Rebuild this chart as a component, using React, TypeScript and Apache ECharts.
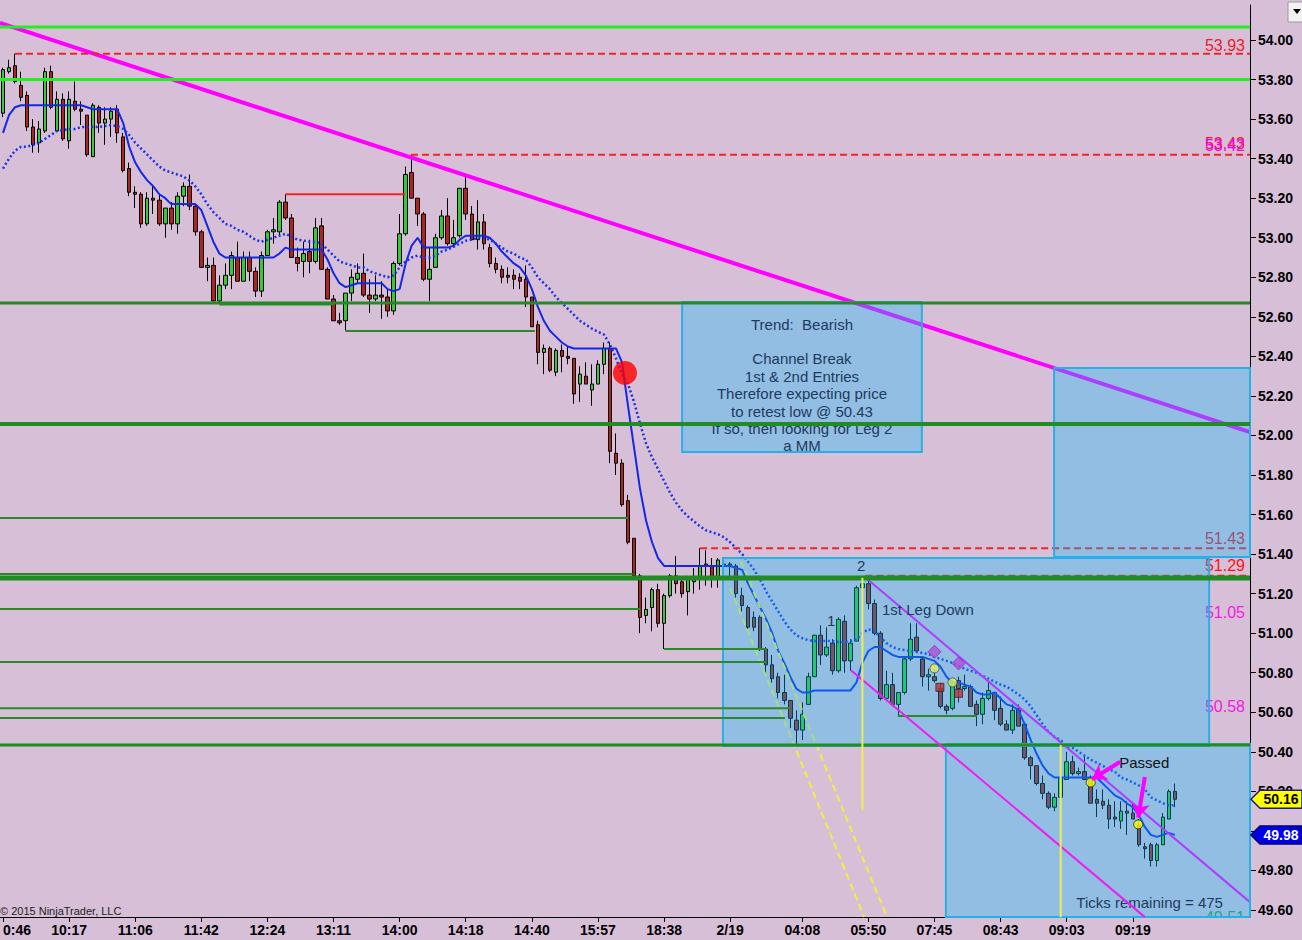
import React, { useEffect, useRef } from "react";
import * as echarts from "echarts";

const FONT = "'Liberation Sans', Arial, Helvetica, sans-serif";
const SLOTS = 208;
const Y_MIN = 49.5647;
const Y_MAX = 54.177;

// ---- x axis labels (bar index -> time label)
const xLabelIndex = [0, 11, 22, 33, 44, 55, 66, 77, 88, 99, 110, 121, 133, 144, 155, 166, 177, 188];
const xLabelText = ["0:46", "10:17", "11:06", "11:42", "12:24", "13:11", "14:00", "14:18", "14:40", "15:57", "18:38", "2/19", "04:08", "05:50", "07:45", "08:43", "09:03", "09:19"];

// ---- OHLC
const opens = [
  53.63, 53.84, 53.87, 53.77, 53.72, 53.56, 53.48, 53.54, 53.84, 53.54,
  53.70, 53.49, 53.69, 53.65, 53.62, 53.41, 53.66, 53.58, 53.60, 53.65,
  53.51, 53.35, 53.23, 53.22, 53.07, 53.20, 53.19, 53.07, 53.15, 53.07,
  53.21, 53.26, 53.16, 53.03, 52.85, 52.86, 52.68, 52.76, 52.81, 52.90,
  52.78, 52.90, 52.83, 52.73, 52.91, 53.03, 53.03, 53.18, 53.10, 52.90,
  52.88, 52.93, 52.88, 53.06, 52.84, 52.69, 52.58, 52.58, 52.72, 52.79,
  52.82, 52.71, 52.69, 52.71, 52.70, 52.63, 52.87, 53.02, 53.33, 53.20,
  53.12, 52.79, 52.85, 53.00, 53.11, 52.97, 53.01, 53.25, 53.12, 52.99,
  53.08, 52.95, 52.87, 52.84, 52.81, 52.81, 52.80, 52.79, 52.70, 52.56,
  52.42, 52.44, 52.32, 52.43, 52.40, 52.39, 52.26, 52.30, 52.23, 52.26,
  52.36, 52.44, 51.91, 51.86, 51.67, 51.48, 51.29, 51.09, 51.13, 51.22,
  51.05, 51.19, 51.29, 51.26, 51.21, 51.26, 51.28, 51.35, 51.34, 51.28,
  51.34, 51.35, 51.34, 51.19, 51.13, 51.08, 51.08, 50.92, 50.84, 50.78,
  50.70, 50.66, 50.56, 50.51, 50.64, 50.78, 50.99, 50.89, 50.95, 50.81,
  51.06, 50.86, 50.96, 51.23, 51.25, 51.15, 51.00, 50.67, 50.74, 50.64,
  50.70, 50.87, 50.98, 50.87, 50.78, 50.78, 50.72, 50.63, 50.62, 50.76,
  50.72, 50.73, 50.64, 50.59, 50.67, 50.70, 50.62, 50.54, 50.51, 50.62,
  50.54, 50.37, 50.33, 50.24, 50.19, 50.12, 50.17, 50.26, 50.35, 50.29,
  50.30, 50.26, 50.16, 50.15, 50.13, 50.07, 50.05, 50.10, 50.09, 50.03,
  49.92, 49.93, 49.85, 49.93, 50.06, 50.20,
];
const highs = [
  53.86, 53.90, 53.93, 53.84, 53.74, 53.60, 53.59, 53.86, 53.87, 53.74,
  53.73, 53.74, 53.79, 53.69, 53.62, 53.68, 53.67, 53.66, 53.66, 53.67,
  53.53, 53.38, 53.26, 53.23, 53.23, 53.26, 53.22, 53.15, 53.18, 53.23,
  53.28, 53.32, 53.17, 53.04, 52.90, 52.90, 52.81, 52.87, 52.93, 52.98,
  52.93, 52.93, 52.85, 52.93, 53.04, 53.10, 53.19, 53.22, 53.12, 52.95,
  52.98, 52.99, 53.10, 53.10, 52.85, 52.71, 52.62, 52.72, 52.84, 52.87,
  52.92, 52.79, 52.81, 52.78, 52.74, 52.88, 53.12, 53.36, 53.42, 53.20,
  53.13, 52.95, 53.02, 53.14, 53.20, 53.09, 53.25, 53.31, 53.16, 53.19,
  53.12, 52.97, 52.90, 52.86, 52.85, 52.84, 52.82, 52.86, 52.70, 52.58,
  52.46, 52.45, 52.44, 52.46, 52.45, 52.39, 52.35, 52.37, 52.36, 52.38,
  52.47, 52.47, 52.01, 51.88, 51.70, 51.48, 51.30, 51.18, 51.23, 51.25,
  51.20, 51.30, 51.39, 51.28, 51.29, 51.33, 51.43, 51.42, 51.38, 51.38,
  51.37, 51.36, 51.35, 51.23, 51.14, 51.11, 51.09, 50.93, 50.89, 50.80,
  50.79, 50.66, 50.61, 50.65, 50.80, 50.99, 51.04, 51.03, 50.97, 51.08,
  51.09, 50.97, 51.24, 51.29, 51.27, 51.17, 51.01, 50.81, 50.80, 50.70,
  50.88, 51.05, 51.05, 50.88, 50.82, 50.82, 50.75, 50.64, 50.76, 50.78,
  50.79, 50.74, 50.66, 50.70, 50.76, 50.70, 50.68, 50.56, 50.64, 50.64,
  50.55, 50.38, 50.33, 50.28, 50.20, 50.19, 50.30, 50.40, 50.38, 50.32,
  50.38, 50.28, 50.21, 50.21, 50.16, 50.15, 50.15, 50.15, 50.14, 50.06,
  49.94, 49.94, 49.94, 50.09, 50.21, 50.24,
];
const lows = [
  53.61, 53.83, 53.78, 53.69, 53.54, 53.43, 53.43, 53.53, 53.65, 53.54,
  53.49, 53.45, 53.64, 53.57, 53.41, 53.41, 53.53, 53.47, 53.51, 53.48,
  53.33, 53.21, 53.15, 53.05, 53.06, 53.12, 53.06, 53.00, 53.04, 53.02,
  53.16, 53.14, 53.01, 52.85, 52.78, 52.68, 52.67, 52.74, 52.74, 52.78,
  52.78, 52.78, 52.70, 52.70, 52.91, 52.97, 53.01, 53.09, 52.90, 52.83,
  52.80, 52.82, 52.87, 52.84, 52.69, 52.58, 52.56, 52.53, 52.68, 52.77,
  52.70, 52.62, 52.68, 52.59, 52.60, 52.61, 52.86, 53.01, 53.20, 53.06,
  52.78, 52.68, 52.85, 52.99, 52.96, 52.95, 53.00, 53.09, 52.99, 52.94,
  52.94, 52.85, 52.82, 52.77, 52.77, 52.74, 52.74, 52.65, 52.55, 52.36,
  52.31, 52.32, 52.30, 52.32, 52.36, 52.16, 52.17, 52.26, 52.15, 52.26,
  52.31, 51.86, 51.80, 51.64, 51.45, 51.28, 51.00, 51.05, 51.01, 51.03,
  50.92, 51.18, 51.20, 51.18, 51.09, 51.20, 51.22, 51.24, 51.23, 51.23,
  51.33, 51.27, 51.18, 51.11, 51.02, 51.01, 50.91, 50.80, 50.75, 50.67,
  50.64, 50.52, 50.43, 50.46, 50.64, 50.78, 50.84, 50.88, 50.79, 50.80,
  50.80, 50.81, 50.96, 51.18, 51.12, 50.99, 50.66, 50.66, 50.63, 50.58,
  50.69, 50.86, 50.90, 50.73, 50.71, 50.75, 50.62, 50.59, 50.61, 50.65,
  50.71, 50.63, 50.53, 50.54, 50.66, 50.56, 50.53, 50.51, 50.49, 50.53,
  50.36, 50.26, 50.23, 50.16, 50.11, 50.10, 50.16, 50.26, 50.28, 50.28,
  50.26, 50.14, 50.07, 50.11, 50.01, 50.02, 50.01, 49.98, 50.06, 49.92,
  49.86, 49.82, 49.82, 49.93, 50.06, 50.12,
];
const closes = [
  53.85, 53.86, 53.79, 53.71, 53.56, 53.47, 53.55, 53.84, 53.66, 53.70,
  53.50, 53.70, 53.65, 53.64, 53.42, 53.67, 53.58, 53.60, 53.64, 53.53,
  53.34, 53.23, 53.22, 53.07, 53.20, 53.19, 53.07, 53.15, 53.07, 53.21,
  53.26, 53.16, 53.03, 52.85, 52.86, 52.68, 52.76, 52.81, 52.91, 52.78,
  52.90, 52.83, 52.73, 52.91, 53.03, 53.04, 53.18, 53.10, 52.90, 52.87,
  52.92, 52.88, 53.05, 52.84, 52.69, 52.58, 52.57, 52.72, 52.80, 52.82,
  52.71, 52.69, 52.71, 52.70, 52.63, 52.87, 53.02, 53.32, 53.20, 53.12,
  52.79, 52.84, 53.00, 53.11, 52.97, 53.00, 53.25, 53.12, 52.99, 53.08,
  52.97, 52.87, 52.84, 52.80, 52.80, 52.79, 52.78, 52.70, 52.55, 52.42,
  52.44, 52.33, 52.43, 52.40, 52.39, 52.21, 52.31, 52.26, 52.26, 52.36,
  52.44, 51.92, 51.86, 51.65, 51.46, 51.29, 51.08, 51.12, 51.22, 51.05,
  51.19, 51.29, 51.25, 51.20, 51.28, 51.28, 51.34, 51.34, 51.28, 51.37,
  51.35, 51.34, 51.20, 51.14, 51.03, 51.03, 50.92, 50.84, 50.77, 50.70,
  50.66, 50.57, 50.51, 50.59, 50.78, 50.99, 50.89, 50.93, 50.81, 51.07,
  50.86, 50.95, 51.23, 51.25, 51.15, 51.00, 50.67, 50.74, 50.64, 50.70,
  50.87, 50.97, 50.91, 50.78, 50.79, 50.76, 50.63, 50.61, 50.75, 50.72,
  50.73, 50.63, 50.59, 50.67, 50.71, 50.61, 50.54, 50.51, 50.61, 50.53,
  50.37, 50.33, 50.24, 50.19, 50.12, 50.17, 50.27, 50.35, 50.29, 50.30,
  50.26, 50.14, 50.14, 50.13, 50.06, 50.06, 50.10, 50.09, 50.06, 49.93,
  49.91, 49.85, 49.93, 50.07, 50.20, 50.16,
];

// ---- indicators
const maFast = [
  53.53, 53.62, 53.66, 53.67, 53.67, 53.67, 53.67, 53.67, 53.67, 53.67,
  53.67, 53.67, 53.67, 53.67, 53.66, 53.65, 53.65, 53.65, 53.65, 53.65,
  53.58, 53.46, 53.38, 53.33, 53.29, 53.26, 53.22, 53.20, 53.17, 53.17,
  53.17, 53.17, 53.17, 53.14, 53.06, 52.98, 52.92, 52.90, 52.90, 52.90,
  52.90, 52.90, 52.90, 52.90, 52.90, 52.90, 52.92, 52.95, 52.94, 52.94,
  52.94, 52.94, 52.94, 52.94, 52.89, 52.82, 52.77, 52.75, 52.76, 52.77,
  52.77, 52.77, 52.77, 52.77, 52.74, 52.73, 52.74, 52.87, 52.96, 53.00,
  52.95, 52.95, 52.95, 52.95, 52.95, 52.96, 52.99, 53.01, 53.01, 53.01,
  53.01, 53.00, 52.97, 52.93, 52.90, 52.87, 52.85, 52.81, 52.74, 52.65,
  52.58, 52.53, 52.50, 52.47, 52.45, 52.44, 52.44, 52.44, 52.44, 52.44,
  52.44, 52.44, 52.44, 52.37, 52.15, 51.94, 51.73, 51.57, 51.46, 51.38,
  51.34, 51.34, 51.34, 51.34, 51.34, 51.34, 51.34, 51.34, 51.34, 51.34,
  51.34, 51.34, 51.33, 51.32, 51.25, 51.19, 51.13, 51.07, 51.00, 50.91,
  50.85, 50.78, 50.72, 50.70, 50.70, 50.71, 50.71, 50.71, 50.71, 50.71,
  50.71, 50.71, 50.75, 50.85, 50.91, 50.93, 50.93, 50.91, 50.89, 50.88,
  50.88, 50.88, 50.88, 50.88, 50.87, 50.86, 50.83, 50.78, 50.75, 50.75,
  50.74, 50.73, 50.70, 50.69, 50.69, 50.70, 50.67, 50.64, 50.63, 50.61,
  50.54, 50.46, 50.39, 50.33, 50.29, 50.27, 50.27, 50.27, 50.27, 50.27,
  50.27, 50.27, 50.27, 50.24, 50.21, 50.18, 50.165, 50.14, 50.12, 50.08,
  50.02, 49.98, 49.97, 49.98, 49.99, 49.98,
];
const maSlow = [
  53.35, 53.40, 53.44, 53.46, 53.46, 53.47, 53.48, 53.50, 53.52, 53.54,
  53.545, 53.55, 53.55, 53.56, 53.56, 53.56, 53.56, 53.565, 53.57, 53.565,
  53.55, 53.52, 53.48, 53.45, 53.42, 53.39, 53.36, 53.34, 53.33, 53.32,
  53.31, 53.29, 53.26, 53.22, 53.17, 53.13, 53.10, 53.07, 53.06, 53.04,
  53.03, 53.01, 52.99, 52.98, 52.99, 53.00, 53.01, 53.02, 53.005, 52.99,
  52.985, 52.98, 52.98, 52.97, 52.94, 52.91, 52.88, 52.87, 52.86, 52.85,
  52.85, 52.83, 52.82, 52.81, 52.80, 52.81, 52.85, 52.88, 52.90, 52.91,
  52.90, 52.90, 52.91, 52.93, 52.94, 52.955, 52.97, 52.985, 52.99, 53.00,
  53.00, 52.99, 52.97, 52.95, 52.93, 52.92, 52.90, 52.89, 52.85, 52.80,
  52.77, 52.74, 52.70, 52.67, 52.64, 52.61, 52.58, 52.56, 52.54, 52.525,
  52.51, 52.46, 52.39, 52.31, 52.26, 52.17, 52.06, 51.96, 51.89, 51.83,
  51.77, 51.71, 51.66, 51.62, 51.59, 51.565, 51.54, 51.52, 51.51, 51.50,
  51.485, 51.46, 51.43, 51.40, 51.36, 51.32, 51.27, 51.21, 51.16, 51.11,
  51.06, 51.02, 50.99, 50.975, 50.965, 50.96, 50.96, 50.96, 50.96, 50.955,
  50.955, 50.96, 50.97, 51.00, 51.02, 51.01, 50.98, 50.95, 50.93, 50.92,
  50.915, 50.91, 50.905, 50.90, 50.895, 50.88, 50.87, 50.86, 50.85, 50.835,
  50.82, 50.81, 50.80, 50.785, 50.77, 50.755, 50.74, 50.73, 50.71, 50.69,
  50.665, 50.63, 50.585, 50.54, 50.50, 50.475, 50.46, 50.43, 50.42, 50.40,
  50.38, 50.36, 50.345, 50.33, 50.31, 50.30, 50.27, 50.26, 50.245, 50.23,
  50.21, 50.17, 50.155, 50.14, 50.13, 50.13,
];

// ---- drawn objects, in (bar index, price) units
const limeLevels = [54.066, 53.80];
const forestLevels = [52.670, 52.058, 51.279, 50.434];
const greenSegments = [
  [36, 55, 52.662], [57, 88.5, 52.528], [-0.5, 104, 51.582], [-0.5, 104.8, 51.299],
  [-0.5, 106, 51.122], [110, 127.1, 50.920], [-0.5, 127.1, 50.854], [-0.5, 131, 50.621],
  [-0.5, 130.1, 50.571], [148.9, 162.1, 50.581],
];
const redDashSegments = [[2, 207.5, 53.93], [67.9, 207.5, 53.42], [116, 207.5, 51.43], [143.5, 207.5, 51.29]];
const redSolidSegments = [[47, 66.9, 53.22]];
const trendLine = [[-0.5, 54.086], [207.5, 52.017]];
const channelUpper = [[143.6, 51.279], [207.5, 49.64]];
const channelLower = [[141.1, 50.813], [190.0, 49.564]];
const yellowDashA = [[121.0, 51.228], [143.3, 49.564]];
const yellowDashB = [[122.8, 51.365], [147.1, 49.564]];
const yellowVerticals = [[143, 51.28, 50.105], [176, 50.434, 49.564]];
const boxes = [
  [113.0, 152.9, 52.675, 51.916],
  [119.8, 200.7, 51.380, 50.429],
  [174.9, 208.5, 52.341, 51.385],
  [156.9, 208.5, 50.439, 49.40],
];
const signalDot = [[103.5, 52.316]];
const diamonds = [[155.0, 50.906], [159.0, 50.847]];
const limeDots = [[155.0, 50.822], [158.0, 50.751]];
const redSquares = [[155.9, 50.726], [159.0, 50.696]];
const yellowDots = [[181.0, 50.245], [188.9, 50.033]];
const arrows = [[185.9, 50.350, 181.2, 50.261], [190.0, 50.273, 188.9, 50.067]];

// ---- annotations
const textBoxLines = ["Trend:  Bearish", "", "Channel Break", "1st & 2nd Entries", "Therefore expecting price", "to retest low @ 50.43", "If so, then looking for Leg 2", "a MM"];
const textBoxAnchor = [132.95, 52.5635];
const noteTexts = ["1", "2", "1st Leg Down", "Passed", "Ticks remaining = 475"];
const notePos = [[137.8, 51.066], [142.8, 51.344], [153.9, 51.122], [189.9, 50.348], [190.8, 49.64]];
const levelLabelTexts = ["53.93", "53.43", "53.42", "51.43", "51.29", "51.05", "50.58", "49.51"];
const levelLabelPrices = [53.93, 53.42, 53.42, 51.43, 51.29, 51.05, 50.58, 49.51];

function buildOption() {
  const labelMap = new Map(xLabelIndex.map((idx, k) => [idx, xLabelText[k]]));
  const tickSet = new Set(xLabelIndex);
  const categories = Array.from({ length: SLOTS }, (_, i) =>
    i === xLabelIndex[0] ? { value: String(i), textStyle: { align: "left" } } : String(i)
  );
  const candles = opens.map((o, i) => [o, closes[i], lows[i], highs[i]]);
  // axis labels hidden under the price tags on the right axis
  const tagPrices = [closes[closes.length - 1], maFast[maFast.length - 1]];

  const seg = (data: any, color: string, width: number, z: number, type: any = "solid") => ({
    type: "line",
    xAxisIndex: 1,
    yAxisIndex: 0,
    data,
    symbol: "none",
    silent: true,
    z,
    lineStyle: { color, width, type, cap: "butt" },
  });
  const hSeg = (s: number[]) => [[s[0], s[2]], [s[1], s[2]]];

  const series: any[] = [];
  series.push({
    type: "candlestick",
    data: candles,
    barWidth: 4,
    silent: true,
    z: 2,
    itemStyle: { color: "#32CD32", color0: "#B22222", borderColor: "#000", borderColor0: "#000", borderWidth: 1 },
  });
  // under the boxes
  series.push({ type: "line", data: maFast, symbol: "none", silent: true, z: 3, lineStyle: { color: "#1428E6", width: 2 } });
  series.push({ type: "line", data: maSlow, symbol: "none", silent: true, z: 3, lineStyle: { color: "#1A32E6", width: 2.5, type: [2, 2.5] } });
  series.push(seg(trendLine, "#FF00FF", 4, 3));
  series.push(seg(channelUpper, "#FF00FF", 2, 3));
  series.push(seg(yellowDashA, "#F4EE3C", 2, 3, [7, 4]));
  series.push(seg(yellowDashB, "#F4EE3C", 2, 3, [7, 4]));
  redDashSegments.forEach((s) => series.push(seg(hSeg(s), "#F02424", 2, 3, [7, 4])));

  // boxes
  series.push({
    type: "custom",
    xAxisIndex: 1,
    yAxisIndex: 0,
    z: 4,
    silent: true,
    data: boxes,
    encode: { x: [0, 1], y: [2, 3] },
    renderItem: (params: any, api: any) => {
      const p1 = api.coord([api.value(0), api.value(2)]);
      const p2 = api.coord([api.value(1), api.value(3)]);
      const cs = params.coordSys;
      const shape = echarts.graphic.clipRectByRect(
        { x: p1[0], y: p1[1], width: p2[0] - p1[0], height: p2[1] - p1[1] },
        { x: cs.x, y: cs.y, width: cs.width, height: cs.height }
      );
      if (!shape) return null;
      return {
        type: "rect",
        shape,
        style: { fill: "rgba(0,191,255,0.32)", stroke: "rgb(40,176,230)", lineWidth: 2 },
      };
    },
  });

  // above the boxes
  const forestWidths = [3, 4, 5, 3];
  limeLevels.forEach((p) => series.push(seg([[-0.5, p], [207.5, p]], "#22EE22", 3, 5)));
  forestLevels.forEach((p, k) => series.push(seg([[-0.5, p], [207.5, p]], "#238B23", forestWidths[k], 5)));
  greenSegments.forEach((s) => series.push(seg(hSeg(s), "#2A8A2A", 2, 5)));
  redSolidSegments.forEach((s) => series.push(seg(hSeg(s), "#F02424", 2, 5)));
  series.push(seg(channelLower, "#F01EF0", 2, 5));
  yellowVerticals.forEach((v) => series.push(seg([[v[0], v[1]], [v[0], v[2]]], "#EEEE50", 2, 5)));

  series.push({ type: "scatter", xAxisIndex: 1, data: signalDot, symbol: "circle", symbolSize: 24, silent: true, z: 6, itemStyle: { color: "#FF0000" } });
  series.push({ type: "scatter", xAxisIndex: 1, data: diamonds, symbol: "diamond", symbolSize: 13, silent: true, z: 6, itemStyle: { color: "#B24FD6", borderColor: "#8A2BB0", borderWidth: 1 } });
  series.push({ type: "scatter", xAxisIndex: 1, data: limeDots, symbol: "circle", symbolSize: 9, silent: true, z: 6, itemStyle: { color: "#DDF060", borderColor: "#3A4A3A", borderWidth: 1 } });
  series.push({ type: "scatter", xAxisIndex: 1, data: redSquares, symbol: "rect", symbolSize: 8, silent: true, z: 6, itemStyle: { color: "#B8333F", borderColor: "#402020", borderWidth: 1 } });
  series.push({
    type: "scatter",
    xAxisIndex: 1,
    data: yellowDots,
    symbol: "circle",
    symbolSize: 9,
    silent: true,
    z: 6,
    itemStyle: { color: "#FFFF00", borderColor: "#222", borderWidth: 1 },
    markLine: {
      silent: true,
      z: 7,
      symbol: ["none", "arrow"],
      symbolSize: 14,
      label: { show: false },
      lineStyle: { color: "#FF00FF", width: 4, type: "solid" },
      data: arrows.map((a) => [{ coord: [a[0], a[1]] }, { coord: [a[2], a[3]] }]),
    },
  });

  const axisText = { color: "#000", fontWeight: "bold", fontSize: 14, fontFamily: FONT };

  return {
    animation: false,
    backgroundColor: "#D8BFD8",
    grid: { left: 0, top: 5, width: 1250, height: 912, outerBoundsMode: "none" },
    xAxis: [
      {
        type: "category",
        data: categories,
        boundaryGap: true,
        axisLine: { show: true, onZero: false, lineStyle: { color: "#000", width: 1 } },
        axisTick: { show: true, alignWithLabel: true, interval: (i: number) => tickSet.has(i), length: 5, lineStyle: { color: "#000" } },
        axisLabel: { interval: 0, margin: 6, formatter: (_v: any, i: number) => labelMap.get(i) ?? "", ...axisText },
        splitLine: { show: false },
      },
      { type: "value", min: -0.5, max: SLOTS - 0.5, show: false, axisLine: { onZero: false } },
    ],
    yAxis: {
      type: "value",
      position: "right",
      min: Y_MIN,
      max: Y_MAX,
      splitNumber: 23,
      axisLine: { show: true, onZero: false, lineStyle: { color: "#000", width: 1 } },
      axisTick: { show: true, length: 6, lineStyle: { color: "#000" } },
      axisLabel: {
        margin: 8,
        showMinLabel: false,
        showMaxLabel: false,
        formatter: (v: number) => (tagPrices.some((t) => Math.abs(t - v) < 0.03) ? "" : v.toFixed(2)),
        ...axisText,
      },
      splitLine: { show: false },
    },
    series,
  };
}

function buildGraphics(chart: any) {
  const X = (v: number) => chart.convertToPixel({ xAxisIndex: 1 }, v) as number;
  const Y = (p: number) => chart.convertToPixel({ yAxisIndex: 0 }, p) as number;
  const els: any[] = [];
  const txt = (text: string, x: number, y: number, o: any) => ({
    type: "text",
    x,
    y,
    z: o.z ?? 20,
    silent: true,
    style: {
      text,
      fill: o.fill ?? "#000",
      fontSize: o.fontSize ?? 15,
      fontWeight: o.fontWeight ?? "normal",
      fontFamily: FONT,
      align: o.align ?? "center",
      verticalAlign: "middle",
    },
  });

  // text box
  const bx = X(textBoxAnchor[0]);
  const by = Y(textBoxAnchor[1]);
  textBoxLines.forEach((line, k) => {
    if (line) els.push(txt(line, bx, by + k * 17.4, { fill: "#1E3A5C", z: 4.5 }));
  });
  // notes
  const noteColors = ["#1E3A5C", "#1E3A5C", "#1E3A5C", "#111111", "#1E3A5C"];
  noteTexts.forEach((t, k) => {
    els.push(txt(t, X(notePos[k][0]), Y(notePos[k][1]), { fill: noteColors[k], z: 4.5 }));
  });
  // level labels at right edge (under the boxes)
  const levelColors = ["#E8202A", "#E8202A", "#F000F0", "#E8202A", "#FF1010", "#F020E0", "#F020E0", "#2E9A5A"];
  const levelOffsets = [-8, -11, -9, -10, -10, -11, -10, -10];
  const rightX = X(SLOTS - 0.5) - 5;
  levelLabelTexts.forEach((t, k) => {
    els.push(txt(t, rightX, Y(levelLabelPrices[k]) + levelOffsets[k], { fill: levelColors[k], fontSize: 16, align: "right", z: 3.5 }));
  });
  // cover the part of the last label that falls below the plot
  const plotBottom = Y(Y_MIN);
  els.push({ type: "rect", z: 3.6, silent: true, shape: { x: rightX - 50, y: plotBottom + 1, width: 52, height: 12 }, style: { fill: "#D8BFD8" } });

  // price tags on the axis
  const axisX = X(SLOTS - 0.5);
  const tag = (value: number, fill: string, stroke: string, textFill: string) => {
    const yc = Y(value);
    els.push({
      type: "polygon",
      z: 30,
      silent: true,
      shape: { points: [[axisX + 1, yc], [axisX + 10, yc - 9], [1302, yc - 9], [1302, yc + 9], [axisX + 10, yc + 9]] },
      style: { fill, stroke, lineWidth: 1.5 },
    });
    els.push(txt(value.toFixed(2), axisX + 31, yc, { fill: textFill, fontSize: 14, fontWeight: "bold", z: 31 }));
  };
  tag(closes[closes.length - 1], "#FFFF00", "#1A1A8A", "#000");
  tag(maFast[maFast.length - 1], "#0000E6", "#00006A", "#FFF");

  // copyright
  els.push(txt("\u00A9 2015 NinjaTrader, LLC", 0, plotBottom - 6, { fontSize: 11, fill: "#222", align: "left", z: 30 }));

  // chart menu button
  els.push({ type: "rect", z: 30, silent: true, shape: { x: 1288, y: 2, width: 16, height: 20 }, style: { fill: "#F2F2F2", stroke: "#9A9A9A", lineWidth: 1 } });
  els.push({ type: "polygon", z: 31, silent: true, shape: { points: [[1293, 9], [1301, 9], [1297, 14]] }, style: { fill: "#000" } });

  return els;
}

export default function App() {
  const ref = useRef<HTMLDivElement>(null);
  useEffect(() => {
    const el = ref.current;
    if (!el) return;
    const chart = echarts.init(el, null, { renderer: "svg", width: 1302, height: 940 });
    chart.setOption(buildOption() as any);
    chart.setOption({ graphic: { elements: buildGraphics(chart) } } as any);
    return () => chart.dispose();
  }, []);
  return <div ref={ref} style={{ position: "fixed", left: 0, top: 0, width: 1302, height: 940, background: "#D8BFD8" }} />;
}
